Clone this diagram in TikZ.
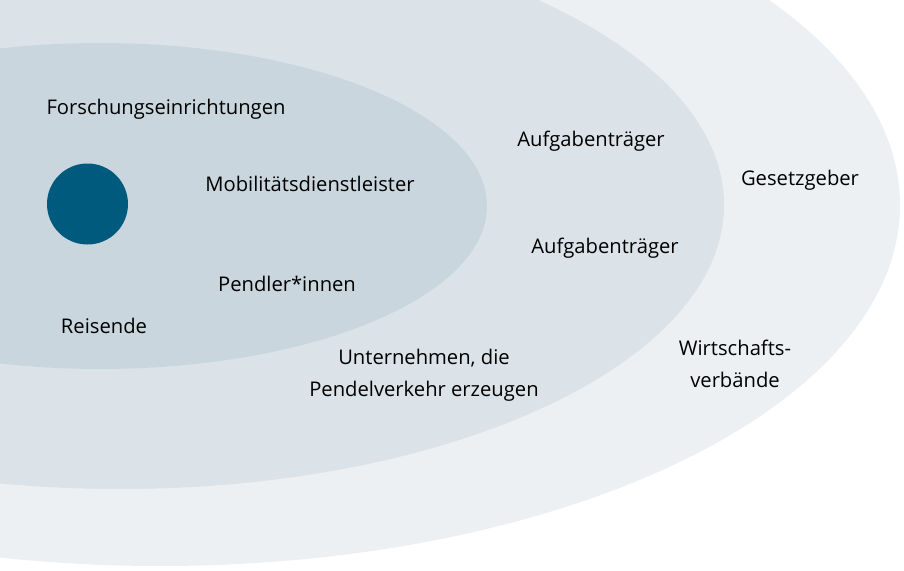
\documentclass[tikz,border=0pt]{standalone}
\usepackage{fontspec}
\setmainfont{Open Sans}
\definecolor{outerc}{RGB}{236,240,243}
\definecolor{midc}{RGB}{219,227,233}
\definecolor{innerc}{RGB}{201,214,222}
\definecolor{dotc}{RGB}{0,90,125}
\tikzset{lbl/.style={inner sep=0pt,font=\fontsize{20.2}{32}\selectfont,text=black,align=center}}
\begin{document}
\begin{tikzpicture}[x=1pt,y=-1pt]
\useasboundingbox (0,0) rectangle (904,570);
\begin{scope}
\clip (0,0) rectangle (904,570);
\fill[outerc] (160,205) ellipse [x radius=740, y radius=361];
\fill[midc] (120,205) ellipse [x radius=604, y radius=284];
\fill[innerc] (100,206) ellipse [x radius=387, y radius=163];
\end{scope}
\node[circle,fill=dotc,minimum size=81pt,inner sep=0pt] (dot) at (87.5,204) {};
\node[lbl] (f) at (166,109) {Forschungseinrichtungen};
\node[lbl] (m) at (310,184) {Mobilitätsdienstleister};
\node[lbl] (p) at (287,284) {Pendler*innen};
\node[lbl] (r) at (104,326) {Reisende};
\node[lbl] (a1) at (591,141) {Aufgabenträger};
\node[lbl] (a2) at (605,248) {Aufgabenträger};
\node[lbl] (g) at (800,180) {Gesetzgeber};
\node[lbl] (w) at (735,364) {Wirtschafts-\\verbände};
\node[lbl] (u) at (424,375) {Unternehmen, die\\Pendelverkehr erzeugen};
\end{tikzpicture}
\end{document}
